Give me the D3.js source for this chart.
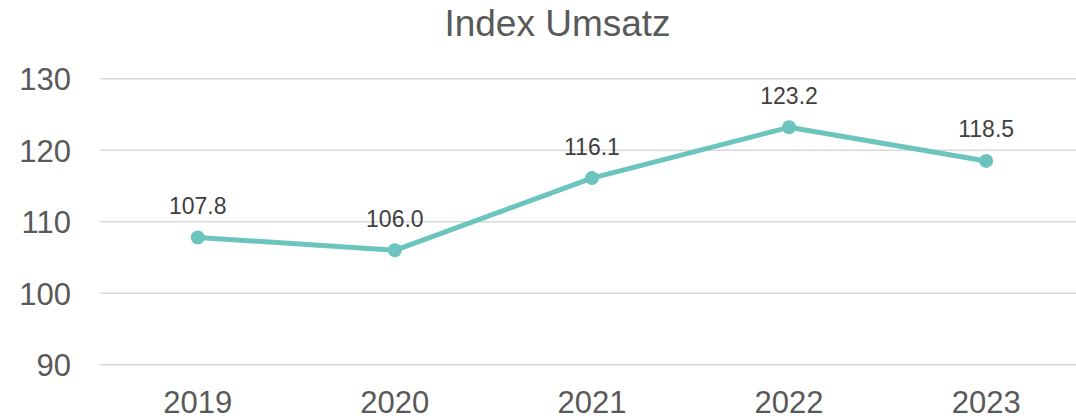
<!DOCTYPE html>
<html>
<head>
<meta charset="utf-8">
<script src="https://cdn.jsdelivr.net/npm/d3@7"></script>
<style>
  html, body { margin: 0; padding: 0; background: #fff; overflow: hidden; }
  text { font-family: "Liberation Sans", Arial, sans-serif; }
</style>
</head>
<body>
<svg id="chart" width="1076" height="419"></svg>
<script>
const title = "Index Umsatz";
const categories = ["2019", "2020", "2021", "2022", "2023"];
const values = [107.8, 106.0, 116.1, 123.2, 118.5];
const yTicks = [90, 100, 110, 120, 130];

const svg = d3.select("#chart");
const x = d3.scaleBand().domain(categories).range([99.2, 1084.7]).padding(0);
const y = d3.scaleLinear().domain([90, 130]).range([364.7, 78.7]);

// title
svg.append("text")
  .attr("x", 557.5).attr("y", 35.5)
  .attr("text-anchor", "middle")
  .attr("fill", "#595959")
  .attr("font-size", 37)
  .text(title);

// gridlines
svg.append("g").selectAll("line").data(yTicks).join("line")
  .attr("x1", 99.5).attr("x2", 1084.7)
  .attr("y1", d => y(d)).attr("y2", d => y(d))
  .attr("stroke", "#d9d9d9").attr("stroke-width", 1.5);

// y axis labels
const yAxis = d3.axisLeft(y).tickValues(yTicks).tickSize(0).tickPadding(0);
const gy = svg.append("g").attr("transform", "translate(71,0)").call(yAxis);
gy.select(".domain").remove();
gy.selectAll("text")
  .attr("fill", "#595959")
  .attr("font-size", 31)
  .attr("font-family", "Liberation Sans, Arial, sans-serif")
  .attr("dy", "0.36em");

// x axis labels
const xAxis = d3.axisBottom(x).tickSize(0).tickPadding(0);
const gx = svg.append("g").attr("transform", "translate(0,413)").call(xAxis);
gx.select(".domain").remove();
gx.selectAll("text")
  .attr("fill", "#595959")
  .attr("font-size", 31)
  .attr("font-family", "Liberation Sans, Arial, sans-serif")
  .attr("y", 0)
  .attr("dy", "0");

const cx = d => x(d) + x.bandwidth() / 2;
const pts = categories.map((c, i) => ({ c, v: values[i] }));

// line
svg.append("path")
  .datum(pts)
  .attr("fill", "none")
  .attr("stroke", "#6bc4be")
  .attr("stroke-width", 5)
  .attr("stroke-linejoin", "round")
  .attr("d", d3.line().x(d => cx(d.c)).y(d => y(d.v)));

// markers
svg.append("g").selectAll("circle").data(pts).join("circle")
  .attr("cx", d => cx(d.c)).attr("cy", d => y(d.v))
  .attr("r", 7)
  .attr("fill", "#6bc4be");

// data labels
svg.append("g").selectAll("text").data(pts).join("text")
  .attr("x", d => cx(d.c)).attr("y", d => y(d.v) - 23.5)
  .attr("text-anchor", "middle")
  .attr("fill", "#404040")
  .attr("font-size", 23)
  .text(d => d.v.toFixed(1));
</script>
</body>
</html>
